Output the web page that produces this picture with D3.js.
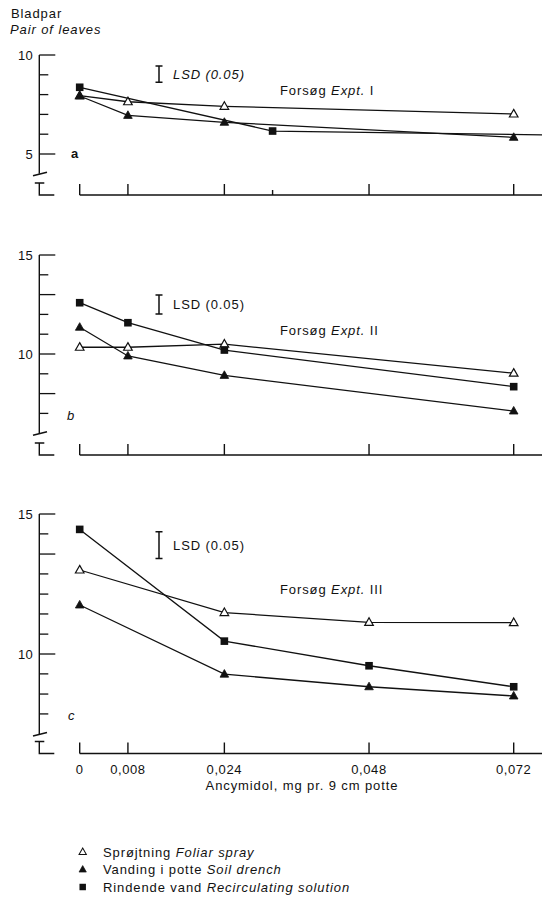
<!DOCTYPE html>
<html>
<head>
<meta charset="utf-8">
<script src="https://cdn.jsdelivr.net/npm/d3@7/dist/d3.min.js"></script>
<style>
  body { margin: 0; background: #fff; }
  svg { display: block; background: #fff; }
  text { font-family: "Liberation Sans", Arial, Helvetica, sans-serif; font-size: 13px; letter-spacing: 0.9px; fill: #111; }
</style>
</head>
<body>
<svg id="chart" width="542" height="900"></svg>
<script>
// ---- Data: pairs of leaves against ancymidol dose (mg per 9 cm pot) ----
// Experiment I
const aFoliarX = [0, 0.008, 0.024, 0.072];
const aFoliar  = [7.95, 7.64, 7.41, 7.02];
const aSoilX   = [0, 0.008, 0.024, 0.072];
const aSoil    = [7.93, 6.95, 6.60, 5.84];
const aRecircX = [0, 0.032, 0.08];
const aRecirc  = [8.37, 6.16, 5.95];
// Experiment II
const bDoses   = [0, 0.008, 0.024, 0.072];
const bFoliar  = [10.34, 10.34, 10.50, 9.03];
const bSoil    = [11.35, 9.90, 8.92, 7.12];
const bRecirc  = [12.59, 11.58, 10.20, 8.35];
// Experiment III
const cDoses   = [0, 0.024, 0.048, 0.072];
const cFoliar  = [13.00, 11.48, 11.13, 11.12];
const cSoil    = [11.75, 9.28, 8.83, 8.50];
const cRecirc  = [14.45, 10.46, 9.58, 8.83];

// Least significant difference (P = 0.05) per experiment
const lsdValues  = [0.82, 0.96, 0.95];
const lsdCenters = [9.04, 12.5, 13.89];

// Axis ticks
const aYTicks = [10, 9, 8, 7, 6, 5];
const bYTicks = [15, 14, 13, 12, 11, 10, 9, 8, 7];
const cYTicks = [15, 14.29, 13.57, 12.86, 12.14, 11.43, 10.71, 10, 9.29, 8.57, 7.86];
const aYLabels = [10, 5];
const bYLabels = [15, 10];
const cYLabels = [15, 10];
const aYLong = [10, 5];
const bYLong = [15, 13, 10, 8];
const cYLong = [15, 13.57, 10];
const aXTicks = [0, 0.008, 0.024, 0.032, 0.048, 0.072];
const bXTicks = [0, 0.008, 0.024, 0.048, 0.072];
const cXTicks = [0, 0.008, 0.024, 0.048, 0.072];
const xTickLabels = ["0", "0,008", "0,024", "0,048", "0,072"];
const exptNumerals = ["I", "II", "III"];
const panelLetters = ["a", "b", "c"];

const seriesNames = [
  { da: "Sprøjtning ", en: "Foliar spray", key: "foliar" },
  { da: "Vanding i potte ", en: "Soil drench", key: "soil" },
  { da: "Rindende vand ", en: "Recirculating solution", key: "recirc" }
];

const zip = (xs, ys) => xs.map((d, i) => [d, ys[i]]);

// ---- Layout ----
const INK = "#111";
const axisX = 39.3;
const xMaxDose = 0.072;
const x = d3.scaleLinear().domain([0, xMaxDose]).range([79.7, 513.7]);

const panels = [
  { yDomain: [4, 10], yRange: [173.8, 55], base: 195,
    yTicks: aYTicks, yLabels: aYLabels, yLong: aYLong, xTicks: aXTicks, xShort: [0.032],
    letter: { x: 71, y: 153, italic: false }, lsdItalic: true, exptY: 90,
    series: { foliar: zip(aFoliarX, aFoliar), soil: zip(aSoilX, aSoil), recirc: zip(aRecircX, aRecirc) } },
  { yDomain: [6, 15], yRange: [433.2, 255], base: 455,
    yTicks: bYTicks, yLabels: bYLabels, yLong: bYLong, xTicks: bXTicks, xShort: [],
    letter: { x: 67, y: 415, italic: true }, lsdItalic: false, exptY: 330,
    series: { foliar: zip(bDoses, bFoliar), soil: zip(bDoses, bSoil), recirc: zip(bDoses, bRecirc) } },
  { yDomain: [7.143, 15], yRange: [734, 514], base: 753.5,
    yTicks: cYTicks, yLabels: cYLabels, yLong: cYLong, xTicks: cXTicks, xShort: [],
    letter: { x: 68, y: 715, italic: true }, lsdItalic: false, exptY: 589, xLabels: true,
    series: { foliar: zip(cDoses, cFoliar), soil: zip(cDoses, cSoil), recirc: zip(cDoses, cRecirc) } }
];

const svg = d3.select("#chart");

// Marker shapes
const triPath = "M0,-4.6L4.3,3L-4.3,3Z";
function drawMarker(g, key, px, py, s = 1) {
  if (key === "recirc") {
    g.append("rect").attr("x", px - 3.8 * s).attr("y", py - 3.8 * s)
      .attr("width", 7.6 * s).attr("height", 7.6 * s).attr("fill", INK);
  } else {
    g.append("path").attr("d", triPath)
      .attr("transform", `translate(${px},${py}) scale(${s})`)
      .attr("fill", key === "foliar" ? "#fff" : INK)
      .attr("stroke", INK).attr("stroke-width", key === "foliar" ? 1.2 : 0.8)
      .attr("stroke-linejoin", "miter");
  }
}

// Y axis title
svg.append("text").attr("x", 11).attr("y", 13.5).attr("dy", "0.35em").text("Bladpar");
svg.append("text").attr("x", 10).attr("y", 29.5).attr("dy", "0.35em")
  .style("font-style", "italic").text("Pair of leaves");

panels.forEach((p, i) => {
  const y = d3.scaleLinear().domain(p.yDomain).range(p.yRange);
  const g = svg.append("g");

  // y axis with inward ticks
  g.append("line").attr("x1", axisX).attr("x2", axisX)
    .attr("y1", p.yRange[1]).attr("y2", p.yRange[0])
    .attr("stroke", INK).attr("stroke-width", 1.4);
  p.yTicks.forEach(t => {
    const len = p.yLong.includes(t) ? 16 : 9;
    g.append("line").attr("x1", axisX).attr("x2", axisX + len)
      .attr("y1", y(t)).attr("y2", y(t)).attr("stroke", INK).attr("stroke-width", 1.3);
  });
  p.yLabels.forEach(t => {
    g.append("text").attr("x", 33).attr("y", y(t)).attr("dy", "0.35em")
      .attr("text-anchor", "end").style("letter-spacing", "0.3px").text(t);
  });

  // axis break marks
  const yb = p.yRange[0];
  g.append("line").attr("x1", 33).attr("x2", 47).attr("y1", yb + 2).attr("y2", yb - 1.5)
    .attr("stroke", INK).attr("stroke-width", 1.5);
  g.append("path")
    .attr("d", `M${axisX - 4.5},${p.base - 12}H${axisX + 5}M${axisX},${p.base - 12}V${p.base}H${axisX + 15}`)
    .attr("fill", "none").attr("stroke", INK).attr("stroke-width", 1.4);

  // x axis with inward ticks, running to the page edge
  g.append("line").attr("x1", x(0)).attr("x2", 542).attr("y1", p.base).attr("y2", p.base)
    .attr("stroke", INK).attr("stroke-width", 1.4);
  p.xTicks.forEach(t => {
    const len = p.xShort.includes(t) ? 5 : 11;
    g.append("line").attr("x1", x(t)).attr("x2", x(t))
      .attr("y1", p.base).attr("y2", p.base - len).attr("stroke", INK).attr("stroke-width", 1.4);
  });
  if (p.xLabels) {
    p.xTicks.forEach((t, k) => {
      g.append("text").attr("x", x(t)).attr("y", 769.5).attr("dy", "0.35em")
        .attr("text-anchor", "middle").style("letter-spacing", "0.6px").text(xTickLabels[k]);
    });
  }

  // panel letter
  g.append("text").attr("x", p.letter.x).attr("y", p.letter.y).attr("dy", "0.35em")
    .style("font-style", p.letter.italic ? "italic" : "normal")
    .style("font-weight", p.letter.italic ? "normal" : "bold")
    .text(panelLetters[i]);

  // LSD bar
  const lx = 159;
  const y1 = y(lsdCenters[i] + lsdValues[i] / 2), y2 = y(lsdCenters[i] - lsdValues[i] / 2);
  g.append("path")
    .attr("d", `M${lx - 3.5},${y1}H${lx + 3.5}M${lx},${y1}V${y2}M${lx - 3.5},${y2}H${lx + 3.5}`)
    .attr("fill", "none").attr("stroke", INK).attr("stroke-width", 1.5);
  g.append("text").attr("x", 173).attr("y", (y1 + y2) / 2).attr("dy", "0.35em")
    .style("font-style", p.lsdItalic ? "italic" : "normal").text("LSD (0.05)");

  // experiment label
  const ex = g.append("text").attr("x", 280).attr("y", p.exptY).attr("dy", "0.35em");
  ex.append("tspan").text("Forsøg ");
  ex.append("tspan").style("font-style", "italic").text("Expt.");
  ex.append("tspan").text(" " + exptNumerals[i]);

  // series lines, then markers (within the dose axis)
  const line = d3.line().x(d => x(d[0])).y(d => y(d[1]));
  const keys = ["foliar", "soil", "recirc"];
  keys.forEach(k => {
    g.append("path").attr("d", line(p.series[k])).attr("fill", "none")
      .attr("stroke", INK).attr("stroke-width", 1.3);
  });
  keys.forEach(k => {
    p.series[k].filter(d => d[0] <= xMaxDose)
      .forEach(d => drawMarker(g, k, x(d[0]), y(d[1])));
  });
});

// x axis title
svg.append("text").attr("x", 302).attr("y", 785).attr("dy", "0.35em")
  .attr("text-anchor", "middle").text("Ancymidol, mg pr. 9 cm potte");

// legend
const legendY = [852, 869.5, 887];
seriesNames.forEach((s, i) => {
  const lg = svg.append("g");
  drawMarker(lg, s.key, 82.7, legendY[i], 0.85);
  const t = lg.append("text").attr("x", 103).attr("y", legendY[i]).attr("dy", "0.35em");
  t.append("tspan").text(s.da);
  t.append("tspan").style("font-style", "italic").text(s.en);
});
</script>
</body>
</html>
